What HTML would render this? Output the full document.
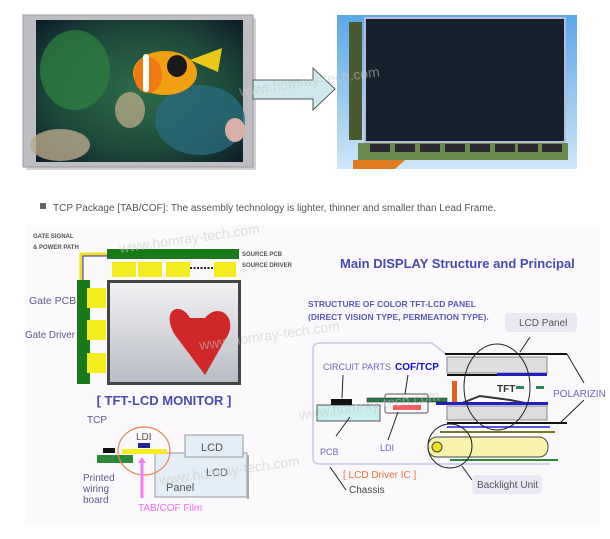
<!DOCTYPE html>
<html><head><meta charset="utf-8"><style>
html,body{margin:0;padding:0;background:#fff}
svg{display:block}
text{font-family:"Liberation Sans",sans-serif}
</style></head><body>
<svg width="610" height="539" viewBox="0 0 610 539" xmlns="http://www.w3.org/2000/svg">
<defs>
<radialGradient id="sea" cx="0.5" cy="0.5" r="0.7">
<stop offset="0" stop-color="#2f6b4a"/><stop offset="0.6" stop-color="#1d4a3a"/><stop offset="1" stop-color="#0d1d2a"/></radialGradient>
<linearGradient id="bluebg" x1="0" y1="0" x2="0" y2="1"><stop offset="0" stop-color="#5aa8e8"/><stop offset="1" stop-color="#cfe6f8"/></linearGradient>
<linearGradient id="kb" x1="0" y1="0" x2="0" y2="1"><stop offset="0" stop-color="#f2f2f4"/><stop offset="1" stop-color="#b8bcc4"/></linearGradient>
</defs>
<rect x="26" y="18" width="230" height="152" fill="#d0d0d4" rx="2"/>
<rect x="23" y="15" width="230" height="152" fill="#bdbdc2" stroke="#9a9aa0"/>
<rect x="36" y="20" width="207" height="142" fill="url(#sea)"/>
<ellipse cx="75" cy="70" rx="35" ry="40" fill="#2e7a3e" opacity="0.8"/>
<ellipse cx="200" cy="120" rx="45" ry="35" fill="#2b6a7a" opacity="0.8"/>
<ellipse cx="60" cy="145" rx="30" ry="16" fill="#b9a98a" opacity="0.8"/>
<ellipse cx="130" cy="110" rx="15" ry="18" fill="#c4b08a" opacity="0.7"/>
<ellipse cx="235" cy="130" rx="10" ry="12" fill="#d8b0a8"/>
<path d="M190 60 L222 48 L218 72 Z" fill="#e8c818"/>
<ellipse cx="165" cy="73" rx="32" ry="22" fill="#f0a010"/>
<ellipse cx="148" cy="75" rx="14" ry="18" fill="#f07a10"/>
<rect x="143" y="54" width="6" height="38" fill="#fff" rx="3"/>
<ellipse cx="177" cy="66" rx="10" ry="11" fill="#1a1a1a"/>
<path d="M253 80 L313 80 L313 68 L335 89 L313 110 L313 99 L253 99 Z" fill="#cfe8ec" stroke="#4a5a60"/>
<rect x="337" y="15" width="240" height="154" fill="url(#bluebg)"/>
<rect x="349" y="22" width="13" height="118" fill="#4a5a30"/>
<rect x="364" y="17" width="202" height="126" fill="#b8b8d8"/>
<rect x="366" y="19" width="198" height="122" fill="#15222e"/>
<rect x="358" y="143" width="210" height="17" fill="#6a8a50"/>
<g fill="#2a2a30"><rect x="370" y="144" width="20" height="8"/><rect x="395" y="144" width="20" height="8"/><rect x="420" y="144" width="20" height="8"/><rect x="445" y="144" width="20" height="8"/><rect x="470" y="144" width="20" height="8"/><rect x="495" y="144" width="20" height="8"/><rect x="518" y="144" width="20" height="8"/><rect x="542" y="144" width="20" height="8"/></g>
<path d="M353 160 L405 160 L395 169 L353 169 Z" fill="#e07a20"/>
<rect x="40" y="203" width="6" height="6" fill="#666"/>
<text x="53" y="211" font-size="10" fill="#555">TCP Package [TAB/COF]: The assembly technology is lighter, thinner and smaller than Lead Frame.</text>
<rect x="25" y="225" width="575" height="300" fill="#fcf9fc"/>
<text x="33" y="238" font-size="6" fill="#555" font-weight="bold">GATE SIGNAL</text>
<text x="33" y="249" font-size="6" fill="#555" font-weight="bold">&amp; POWER PATH</text>
<text x="242" y="256" font-size="6" fill="#555" font-weight="bold">SOURCE PCB</text>
<text x="242" y="267" font-size="6" fill="#555" font-weight="bold">SOURCE DRIVER</text>
<rect x="107" y="249" width="132" height="10" fill="#1a7a1a"/>
<path d="M81 282 L81 254 L107 254" fill="none" stroke="#f0e020" stroke-width="3"/>
<path d="M83 284 L83 256 L110 256" fill="none" stroke="#3030c0" stroke-width="1"/>
<g fill="#f5ec20"><rect x="112" y="262" width="24" height="15"/><rect x="138" y="262" width="24" height="15"/><rect x="166" y="262" width="24" height="15"/><rect x="214" y="262" width="22" height="15"/></g>
<line x1="190" y1="268" x2="213" y2="268" stroke="#222" stroke-width="2" stroke-dasharray="2,1.5"/>
<rect x="77" y="280" width="13" height="104" fill="#1a7a1a"/>
<g fill="#f5ec20"><rect x="87" y="288" width="19" height="20"/><rect x="87" y="320" width="19" height="20"/><rect x="87" y="353" width="19" height="20"/></g>
<rect x="107" y="280" width="134" height="105" fill="#444"/>
<rect x="110" y="283" width="128" height="99" fill="url(#kb)"/>
<path d="M190 318 C180 300 160 310 175 335 L205 375 L225 340 C240 320 220 300 205 318 Z" fill="#d02828"/>
<text x="29" y="304" font-size="10.5" fill="#5a5a88">Gate PCB</text>
<text x="25" y="338" font-size="10.5" fill="#5a5a88" textLength="50" lengthAdjust="spacingAndGlyphs">Gate Driver</text>
<text x="164" y="405" font-size="13" font-weight="bold" fill="#4a4ab0" text-anchor="middle">[ TFT-LCD  MONITOR ]</text>
<text x="87" y="423" font-size="10" fill="#5a5a88">TCP</text>
<rect x="155" y="453" width="92" height="44" fill="#e4eef6" stroke="#999"/>
<rect x="247" y="455" width="2" height="44" fill="#aaa"/>
<rect x="185" y="435" width="58" height="22" fill="#e4eef6" stroke="#999"/>
<text x="201" y="451" font-size="11" fill="#555">LCD</text>
<text x="206" y="476" font-size="11" fill="#555">LCD</text>
<text x="166" y="491" font-size="11" fill="#555">Panel</text>
<rect x="97" y="455" width="36" height="8" fill="#2a8a3a"/>
<rect x="103" y="448" width="12" height="5" fill="#111"/>
<rect x="122" y="449" width="45" height="5" fill="#f5ec20"/>
<rect x="138" y="443" width="12" height="5" fill="#2020a0"/>
<text x="136" y="440" font-size="10" fill="#555">LDI</text>
<ellipse cx="144" cy="451" rx="26" ry="24" fill="none" stroke="#f08050" stroke-width="1.2"/>
<path d="M142 457 L146 463 L143.5 463 L143.5 498 L140.5 498 L140.5 463 L138 463 Z" fill="#f080f0"/>
<text x="138" y="511" font-size="10" fill="#f070f0">TAB/COF Film</text>
<text x="83" y="481" font-size="10" fill="#5a5a88">Printed</text>
<text x="83" y="492" font-size="10" fill="#5a5a88">wiring</text>
<text x="83" y="503" font-size="10" fill="#5a5a88">board</text>
<text x="340" y="268" font-size="13" font-weight="bold" fill="#4a4ab0">Main DISPLAY Structure and Principal</text>
<text x="308" y="307" font-size="8.5" font-weight="bold" fill="#5a5ab8">STRUCTURE OF COLOR TFT-LCD PANEL</text>
<text x="308" y="320" font-size="8.5" font-weight="bold" fill="#5a5ab8">(DIRECT VISION TYPE, PERMEATION TYPE).</text>
<rect x="505" y="313" width="72" height="19" rx="4" fill="#ebe8f4"/>
<text x="519" y="326" font-size="10" fill="#555">LCD Panel</text>
<path d="M447 355 L432 343 L320 343 Q313 343 313 350 L313 458 Q313 464 320 464 L550 464" fill="none" stroke="#c8c8e8" stroke-width="1.5"/>
<line x1="445" y1="354" x2="567" y2="354" stroke="#111" stroke-width="2"/>
<rect x="447" y="357" width="100" height="16" fill="#ddd" stroke="#888"/>
<line x1="447" y1="375" x2="547" y2="375" stroke="#111" stroke-width="2"/>
<rect x="497" y="373" width="50" height="3" fill="#2020c0"/>
<rect x="452" y="381" width="5" height="24" fill="#e06020"/>
<text x="497" y="392" font-size="10" font-weight="bold" fill="#333" font-family="Liberation Serif">TFT</text>
<path d="M462 403 L480 396 L510 400 L530 404" fill="none" stroke="#333" stroke-width="2"/>
<rect x="516" y="386" width="8" height="3" fill="#2a8a5a"/><rect x="536" y="386" width="8" height="3" fill="#2a8a5a"/>
<rect x="436" y="402" width="112" height="3" fill="#2020c0"/>
<rect x="447" y="406" width="100" height="14" fill="#ddd" stroke="#888"/>
<line x1="447" y1="423" x2="567" y2="423" stroke="#111" stroke-width="2"/>
<line x1="447" y1="427" x2="550" y2="427" stroke="#2020e0" stroke-width="1.5"/>
<line x1="440" y1="432" x2="555" y2="432" stroke="#7a7a20" stroke-width="2"/>
<rect x="428" y="437" width="120" height="20" rx="9" fill="#f8f4b0" stroke="#444"/>
<circle cx="437" cy="447" r="5" fill="#f0e020" stroke="#444"/>
<line x1="450" y1="460" x2="558" y2="460" stroke="#2a8a3a" stroke-width="2"/>
<ellipse cx="497" cy="387" rx="33" ry="43" fill="none" stroke="#222"/>
<circle cx="450" cy="446" r="22" fill="none" stroke="#222"/>
<line x1="520" y1="352" x2="530" y2="337" stroke="#222"/>
<line x1="567" y1="354" x2="584" y2="383" stroke="#222"/>
<line x1="560" y1="423" x2="584" y2="400" stroke="#222"/>
<line x1="462" y1="466" x2="472" y2="480" stroke="#222"/>
<rect x="472" y="475" width="70" height="19" rx="4" fill="#ebe8f4"/>
<text x="477" y="488" font-size="10" fill="#555">Backlight Unit</text>
<text x="553" y="397" font-size="10" fill="#6a6ab8">POLARIZIN</text>
<rect x="367" y="398" width="80" height="4" fill="#2a7a4a" stroke="#222" stroke-width="0.5"/>
<rect x="385" y="394" width="43" height="19" rx="2" fill="none" stroke="#555"/>
<rect x="393" y="405" width="28" height="5" fill="#f06060"/>
<rect x="317" y="405" width="63" height="16" fill="#c8eeee" stroke="#555"/>
<rect x="331" y="399" width="21" height="6" fill="#111"/>
<text x="323" y="370" font-size="9" fill="#6a6ab8">CIRCUIT PARTS</text>
<text x="395" y="370" font-size="10" font-weight="bold" fill="#1010e0" font-family="Liberation Serif">COF/TCP</text>
<line x1="342" y1="398" x2="343" y2="375" stroke="#222"/>
<line x1="405" y1="394" x2="408" y2="375" stroke="#222"/>
<line x1="336" y1="436" x2="350" y2="417" stroke="#222"/>
<line x1="388" y1="440" x2="398" y2="412" stroke="#222"/>
<text x="380" y="451" font-size="9" fill="#6a6ab8">LDI</text>
<text x="320" y="455" font-size="9" fill="#6a6ab8">PCB</text>
<text x="343" y="478" font-size="10" fill="#f07040">[ LCD Driver IC ]</text>
<line x1="330" y1="467" x2="346" y2="490" stroke="#222"/>
<text x="349" y="493" font-size="10" fill="#444">Chassis</text>
<g font-size="14" fill="#c8c8c8" opacity="0.55">
<text x="120" y="253" transform="rotate(-8 120 253)">www.homray-tech.com</text>
<text x="160" y="485" transform="rotate(-8 160 485)">www.homray-tech.com</text>
<text x="240" y="96" transform="rotate(-8 240 96)">www.homray-tech.com</text>
<text x="200" y="350" transform="rotate(-8 200 350)">www.homray-tech.com</text>
<text x="300" y="420" transform="rotate(-8 300 420)">www.homray-tech.com</text>
</g>
</svg>
</body></html>
